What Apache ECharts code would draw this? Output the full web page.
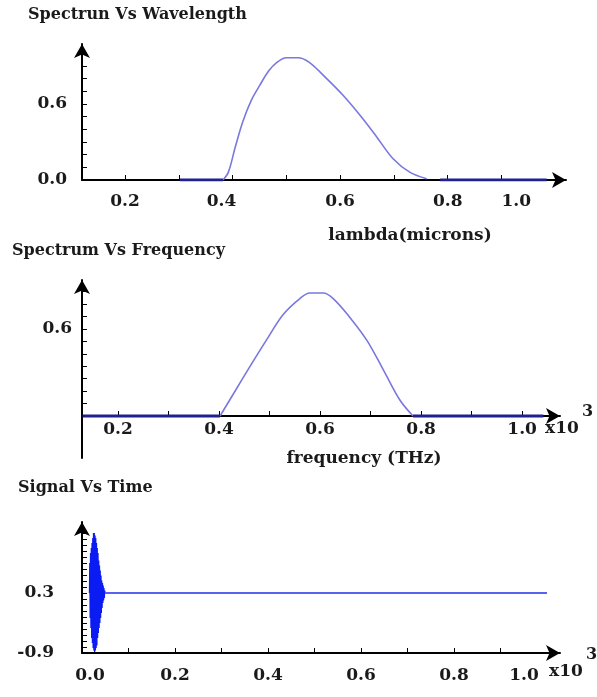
<!DOCTYPE html>
<html>
<head>
<meta charset="utf-8">
<title>Spectrum / Signal</title>
<script src="https://cdn.jsdelivr.net/npm/echarts@6/dist/echarts.min.js"></script>
<style>
  html, body { margin: 0; padding: 0; background: #fff; }
  #chart { width: 597px; height: 697px; }
</style>
</head>
<body>
<div id="chart"></div>
<script>
// spectrum vs wavelength (microns)
var lambdaX = [0.382, 0.392, 0.405, 0.419, 0.435, 0.451, 0.467, 0.483, 0.500, 0.522,
               0.542, 0.575, 0.605, 0.637, 0.668, 0.698, 0.730, 0.761];
var lambdaY = [0, 0.06, 0.26, 0.46, 0.63, 0.75, 0.86, 0.93, 0.965, 0.965,
               0.93, 0.80, 0.67, 0.51, 0.34, 0.17, 0.06, 0.01];
var lambdaLowX = [0.302, 0.382];
var lambdaHighX = [0.786, 0.984];

// spectrum vs frequency (x10^3 THz)
var freqX = [0.402, 0.428, 0.461, 0.495, 0.527, 0.560, 0.580, 0.606, 0.626, 0.659, 0.693, 0.725, 0.758, 0.784];
var freqY = [0, 0.15, 0.34, 0.53, 0.70, 0.81, 0.848, 0.848, 0.81, 0.68, 0.52, 0.32, 0.11, 0];
var freqLowX = [0.13, 0.402];
var freqHighX = [0.784, 1.042];

// signal vs time (x10^3)
var sigT = [0.0160, 0.0168, 0.0176, 0.0184, 0.0192, 0.0200, 0.0208, 0.0216, 0.0224, 0.0232,
            0.0240, 0.0248, 0.0256, 0.0264, 0.0272, 0.0280, 0.0288, 0.0296, 0.0304, 0.0312,
            0.0320, 0.0328, 0.0336, 0.0344, 0.0352, 0.0360, 0.0368, 0.0376, 0.0384, 0.0392,
            0.0400, 0.0408, 0.0416, 0.0424, 0.0432, 0.0440, 0.0448, 0.0456, 0.0464, 0.0472,
            0.0480, 0.0488, 0.0496];
var sigV = [0.3, 0.9, -0.2, 1.1, -0.4, 1.2, -0.6, 1.3, -0.7, 1.4,
            -0.8, 1.5, -0.85, 1.5, -0.88, 1.45, -0.85, 1.4, -0.8, 1.3,
            -0.75, 1.2, -0.6, 1.1, -0.5, 0.95, -0.4, 0.85, -0.3, 0.75,
            -0.2, 0.65, -0.1, 0.55, 0.0, 0.5, 0.1, 0.45, 0.15, 0.4,
            0.2, 0.35, 0.3];
var flatT = [0.0496, 1.0];
var flatV = [0.3, 0.3];

// ticks and labels
var x1Ticks = [0.2, 0.3, 0.4, 0.5, 0.6, 0.7, 0.8, 0.9];
var x1Labels = [0.2, 0.4, 0.6, 0.8, 1.0];
var y1Ticks = [0.1, 0.2, 0.3, 0.4, 0.5, 0.6, 0.7, 0.8, 0.9];
var y1Labels = [0, 0.6];
var x2Ticks = [0.2, 0.3, 0.4, 0.5, 0.6, 0.7, 0.8, 0.9, 1.0];
var x2Labels = [0.2, 0.4, 0.6, 0.8, 1.0];
var y2Ticks = [0.086, 0.171, 0.257, 0.343, 0.429, 0.514, 0.6, 0.686, 0.771, 0.857];
var y2Labels = [0.6];
var x3Ticks = [0.1, 0.2, 0.3, 0.4, 0.5, 0.6, 0.7, 0.8, 0.9];
var x3Labels = [0.0, 0.2, 0.4, 0.6, 0.8, 1.0];
var y3Ticks = [-0.78, -0.66, -0.54, -0.42, -0.3, -0.18, -0.06, 0.06, 0.18, 0.3,
               0.42, 0.54, 0.66, 0.78, 0.9, 1.02, 1.14, 1.26, 1.38, 1.5];
var y3Labels = [-0.9, 0.3];

function pairs(xs, ys) {
  return xs.map(function (x, i) { return [x, ys[i]]; });
}
function flat(xs, y) {
  return xs.map(function (x) { return [x, y]; });
}

var font = { fontFamily: 'DejaVu Serif', fontWeight: 'bold', color: '#1a1a1a' };
var axisLine = {
  show: true,
  onZero: false,
  symbol: ['none', 'arrow'],
  symbolSize: [12, 14],
  lineStyle: { color: '#000', width: 2 }
};
function tick(values) {
  return { show: true, inside: true, length: 5, customValues: values, lineStyle: { color: '#000', width: 1 } };
}
function label(values, margin, fmt, rich) {
  return Object.assign({
    show: true, customValues: values, margin: margin, fontSize: 17,
    formatter: fmt || function (v) { return v.toFixed(1); },
    rich: rich || {}
  }, font);
}
function shift(left, right) {
  return Object.assign({ fontSize: 17, padding: [0, right, 0, left] }, font);
}

var chart = echarts.init(document.getElementById('chart'));
chart.setOption({
  backgroundColor: '#fff',
  animation: false,
  title: [
    { text: 'Spectrun Vs Wavelength', left: 28, top: 7, padding: 0, textStyle: Object.assign({ fontSize: 16 }, font) },
    { text: 'Spectrum Vs Frequency', left: 12, top: 243, padding: 0, textStyle: Object.assign({ fontSize: 16 }, font) },
    { text: 'Signal Vs Time', left: 18, top: 480, padding: 0, textStyle: Object.assign({ fontSize: 16 }, font) }
  ],
  grid: [
    { left: 82, top: 44, width: 484, height: 136 },
    { left: 82, top: 280, width: 478, height: 178 },
    { left: 82, top: 522, width: 478, height: 131 }
  ],
  xAxis: [
    {
      type: 'value', gridIndex: 0, min: 0.12, max: 1.02,
      axisLine: axisLine, axisTick: tick(x1Ticks), splitLine: { show: false },
      axisLabel: label(x1Labels, 13, function (v) {
        var s = v.toFixed(1);
        if (s === '1.0') return '{r|1.0}';
        if (s === '0.4') return '{q|0.4}';
        return s;
      }, { r: shift(0, 78), q: shift(0, 22) }),
      name: 'lambda(microns)', nameLocation: 'middle', nameGap: 47,
      nameTextStyle: Object.assign({ fontSize: 17, padding: [0, 0, 0, 172] }, font)
    },
    {
      type: 'value', gridIndex: 1, min: 0.1287, max: 1.075, offset: -42,
      axisLine: axisLine, axisTick: tick(x2Ticks), splitLine: { show: false },
      axisLabel: label(x2Labels, 5),
      name: 'frequency (THz)', nameLocation: 'middle', nameGap: 34,
      nameTextStyle: Object.assign({ fontSize: 17, padding: [0, 0, 0, 86] }, font)
    },
    {
      type: 'value', gridIndex: 2, min: 0, max: 1.028,
      axisLine: axisLine, axisTick: tick(x3Ticks), splitLine: { show: false },
      axisLabel: label(x3Labels, 14, function (v) {
        var s = v.toFixed(1);
        if (s === '1.0') return '{r|1.0}';
        if (s === '0.0') return '{l|0.0}';
        return s;
      }, { r: shift(0, 46), l: shift(16, 0) })
    }
  ],
  yAxis: [
    {
      type: 'value', gridIndex: 0, min: 0, max: 1.073,
      axisLine: axisLine, axisTick: tick(y1Ticks), splitLine: { show: false },
      axisLabel: label(y1Labels, 15)
    },
    {
      type: 'value', gridIndex: 1, min: -0.29, max: 0.938,
      axisLine: axisLine, axisTick: tick(y2Ticks), splitLine: { show: false },
      axisLabel: label(y2Labels, 10)
    },
    {
      type: 'value', gridIndex: 2, min: -0.9, max: 1.72,
      axisLine: axisLine, axisTick: tick(y3Ticks), splitLine: { show: false },
      axisLabel: label(y3Labels, 28)
    }
  ],
  graphic: [
    { type: 'text', left: 545, top: 420, style: Object.assign({ text: 'x10', fontSize: 17 }, font, { fill: '#1a1a1a' }) },
    { type: 'text', left: 582, top: 404, style: Object.assign({ text: '3', fontSize: 16 }, font, { fill: '#1a1a1a' }) },
    { type: 'text', left: 549, top: 663, style: Object.assign({ text: 'x10', fontSize: 17 }, font, { fill: '#1a1a1a' }) },
    { type: 'text', left: 586, top: 647, style: Object.assign({ text: '3', fontSize: 16 }, font, { fill: '#1a1a1a' }) }
  ],
  series: [
    { type: 'line', xAxisIndex: 0, yAxisIndex: 0, data: pairs(lambdaX, lambdaY), smooth: 0.35, showSymbol: false,
      lineStyle: { color: '#7a78de', width: 1.6 } },
    { type: 'line', xAxisIndex: 0, yAxisIndex: 0, data: flat(lambdaLowX, 0), showSymbol: false,
      lineStyle: { color: '#20208f', width: 3 } },
    { type: 'line', xAxisIndex: 0, yAxisIndex: 0, data: flat(lambdaHighX, 0), showSymbol: false,
      lineStyle: { color: '#20208f', width: 3 } },
    { type: 'line', xAxisIndex: 1, yAxisIndex: 1, data: pairs(freqX, freqY), smooth: 0.35, showSymbol: false,
      lineStyle: { color: '#7a78de', width: 1.6 } },
    { type: 'line', xAxisIndex: 1, yAxisIndex: 1, data: flat(freqLowX, 0), showSymbol: false,
      lineStyle: { color: '#20208f', width: 3 } },
    { type: 'line', xAxisIndex: 1, yAxisIndex: 1, data: flat(freqHighX, 0), showSymbol: false,
      lineStyle: { color: '#20208f', width: 3 } },
    { type: 'line', xAxisIndex: 2, yAxisIndex: 2, data: pairs(sigT, sigV), showSymbol: false,
      lineStyle: { color: '#0a1cf2', width: 1.3 } },
    { type: 'line', xAxisIndex: 2, yAxisIndex: 2, data: pairs(flatT, flatV), showSymbol: false,
      lineStyle: { color: '#5563ef', width: 2 } }
  ]
});
</script>
</body>
</html>
